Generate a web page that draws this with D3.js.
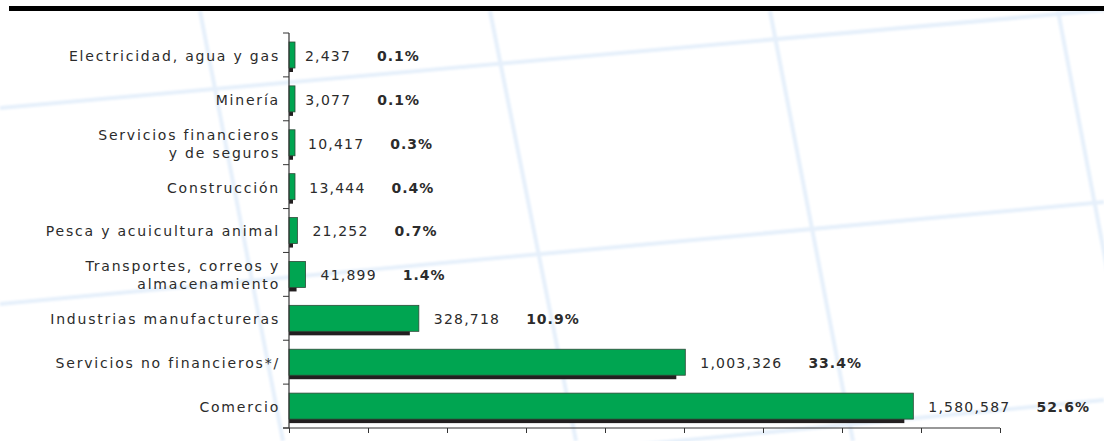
<!DOCTYPE html>
<html>
<head>
<meta charset="utf-8">
<script src="https://cdn.jsdelivr.net/npm/d3@7"></script>
<style>
  html, body { margin: 0; padding: 0; background: #ffffff; }
  svg { display: block; }
  text { font-family: "DejaVu Sans", Verdana, sans-serif; fill: #2b2b2b; }
</style>
</head>
<body>
<svg id="chart" width="1104" height="441"></svg>
<script>
// Unidades económicas por sector (número y participación porcentual)
const categories = [
  "Electricidad, agua y gas",
  "Minería",
  "Servicios financieros\ny de seguros",
  "Construcción",
  "Pesca y acuicultura animal",
  "Transportes, correos y\nalmacenamiento",
  "Industrias manufactureras",
  "Servicios no financieros*/",
  "Comercio"
];
const values = [2437, 3077, 10417, 13444, 21252, 41899, 328718, 1003326, 1580587];
const shares = [0.1, 0.1, 0.3, 0.4, 0.7, 1.4, 10.9, 33.4, 52.6];
const xTicks = [0, 200000, 400000, 600000, 800000, 1000000, 1200000, 1400000, 1600000, 1800000];

const W = 1104, H = 441;
const svg = d3.select("#chart");

// faint perspective grid in the background
const defs = svg.append("defs");
defs.append("filter").attr("id", "soft")
  .append("feGaussianBlur").attr("stdDeviation", 0.9);
const bgLines = [
  [[0, 108], [1104, 10]],
  [[0, 304], [1104, 202]],
  [[0, 506], [1104, 400]],
  [[200, 11], [283, 441]],
  [[490, 11], [576, 441]],
  [[770, 11], [853, 441]],
  [[1058, 11], [1140, 441]]
];
svg.append("g").attr("filter", "url(#soft)")
  .selectAll("line").data(bgLines).join("line")
  .attr("x1", d => d[0][0]).attr("y1", d => d[0][1])
  .attr("x2", d => d[1][0]).attr("y2", d => d[1][1])
  .attr("stroke", "#e6f0fb").attr("stroke-width", 4);

// heavy rule across the top
svg.append("rect").attr("x", 9).attr("y", 6).attr("width", W - 9).attr("height", 5).attr("fill", "#000");

const x = d3.scaleLinear().domain([0, 1800000]).range([289, 1000]);
const y = d3.scaleBand().domain(categories).range([33, 428]).paddingInner(0).paddingOuter(0);

const barH = 26, barOff = 9, shadowDrop = 4;

// bars: dark shadow slab under a green bar
const rows = categories.map((c, i) => ({ c, v: values[i], s: shares[i] }));
const gBars = svg.append("g");
gBars.selectAll("rect.shadow").data(rows).join("rect")
  .attr("class", "shadow")
  .attr("x", x(0))
  .attr("y", d => y(d.c) + barOff + shadowDrop)
  .attr("width", d => Math.max(x(d.v) - x(0) - 9, 4))
  .attr("height", barH)
  .attr("fill", "#231f20");
gBars.selectAll("rect.bar").data(rows).join("rect")
  .attr("class", "bar")
  .attr("x", x(0))
  .attr("y", d => y(d.c) + barOff)
  .attr("width", d => Math.max(x(d.v) - x(0), 6))
  .attr("height", barH)
  .attr("fill", "#00a551")
  .attr("stroke", "#2f4a38")
  .attr("stroke-width", 0.8);

// axes
const axisColor = "#333";
const yAxis = svg.append("g");
yAxis.append("line").attr("x1", x(0)).attr("x2", x(0)).attr("y1", 33).attr("y2", 428)
  .attr("stroke", axisColor).attr("stroke-width", 1.2);
const bounds = categories.map(c => y(c)).concat([428]);
yAxis.selectAll("line.tk").data(bounds).join("line").attr("class", "tk")
  .attr("x1", x(0) - 6).attr("x2", x(0)).attr("y1", d => d).attr("y2", d => d)
  .attr("stroke", axisColor).attr("stroke-width", 1);

const xAxis = d3.axisBottom(x).tickValues(xTicks).tickSize(5).tickFormat("");
const gx = svg.append("g").attr("transform", "translate(0,428)").call(xAxis);
gx.select(".domain").attr("stroke", axisColor).attr("stroke-width", 1.2)
  .attr("d", `M${x(0) - 6},0H${x(1800000)}`);
gx.selectAll(".tick line").attr("stroke", axisColor);

// category labels
const fs = 14;
const gLab = svg.append("g");
rows.forEach(d => {
  const lines = d.c.split("\n");
  const cy = y(d.c) + y.bandwidth() / 2 + 1;
  const lh = 18;
  const t = gLab.append("text")
    .attr("text-anchor", "end")
    .attr("font-size", fs)
    .attr("letter-spacing", 1.8);
  lines.forEach((ln, k) => {
    t.append("tspan")
      .attr("x", 280)
      .attr("y", cy + (k - (lines.length - 1) / 2) * lh)
      .attr("dy", "0.35em")
      .text(ln);
  });
});

// value and share labels
const fmt = d3.format(",");
const gVal = svg.append("g");
rows.forEach(d => {
  const cy = y(d.c) + barOff + barH / 2 + 1;
  const vx = x(d.v) + 15;
  const tv = gVal.append("text")
    .attr("x", vx).attr("y", cy).attr("dy", "0.35em")
    .attr("font-size", fs).attr("letter-spacing", 1.2)
    .text(fmt(d.v));
  const w = tv.node().getComputedTextLength();
  gVal.append("text")
    .attr("x", vx + w + 26).attr("y", cy).attr("dy", "0.35em")
    .attr("font-size", fs).attr("font-weight", "bold").attr("letter-spacing", 1.0)
    .text(d.s.toFixed(1) + "%");
});
</script>
</body>
</html>
